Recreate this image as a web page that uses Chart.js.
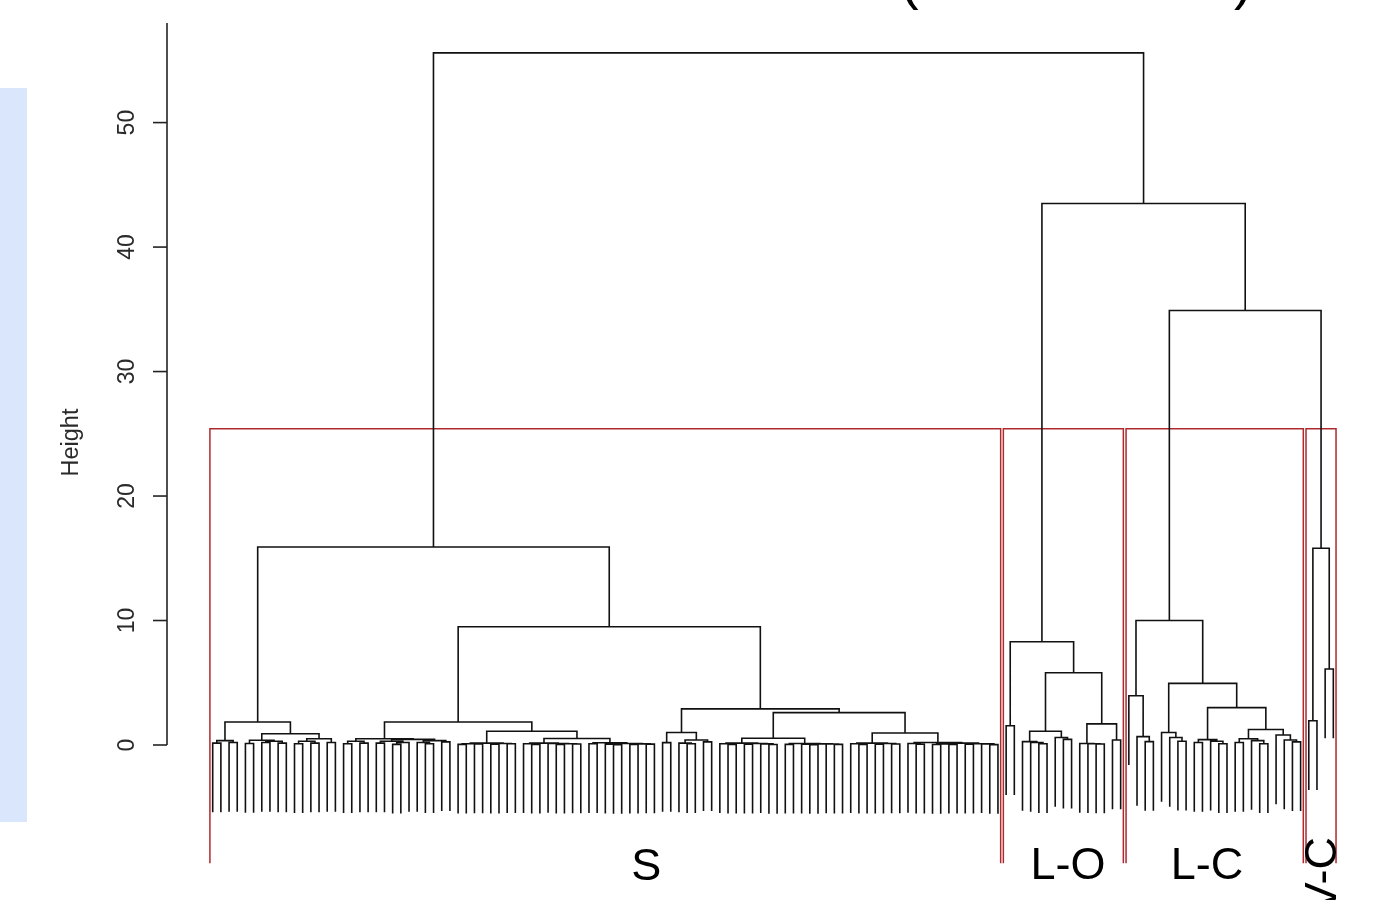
<!DOCTYPE html>
<html>
<head>
<meta charset="utf-8">
<style>html,body{margin:0;padding:0;background:#fff;overflow:hidden}canvas{display:block}</style>
<script src="https://cdn.jsdelivr.net/npm/chart.js@4.4.1/dist/chart.umd.min.js"></script>
</head>
<body>
<canvas id="c" width="1382" height="900"></canvas>
<script>
// ---- DATA: dendrogram merges as [height, left, right]; L = a leaf ----
const L = 0;
// cluster S
const sA1   = [0.35, [0.15, L, L], [0.2, L, L]];
const sA2a  = [0.38, [0.12, L, L], [0.3, [0.2, L, L], [0.15, L, L]]];
const sA2b  = [0.5, [0.3, [0.1, L, L], [0.15, L, L]], [0.2, L, L]];
const sA    = [1.85, sA1, [0.9, sA2a, sA2b]];
const sCL1  = [0.3, [0.1, L, L], [0.15, L, L]];
const sCL2  = [0.45, [0.3, [0.15, L, L], [0.2, [0.05, L, L], L]], [0.35, [0.2, L, [0.1, L, L]], [0.25, L, L]]];
const sCRL  = [0.15, [0.1, [0.05, L, L], [0.08, L, L]], [0.12, [0.06, L, L], [0.1, L, L]]];
const sCRRa = [0.15, [0.1, L, [0.05, L, L]], [0.12, L, [0.1, [0.05, L, L], [0.08, L, L]]]];
const sCRRb = [0.18, [0.1, L, L], [0.12, [0.06, L, [0.03, L, L]], [0.09, [0.05, L, L], [0.07, L, L]]]];
const sC    = [1.85, [0.5, sCL1, sCL2], [1.1, sCRL, [0.52, sCRRa, sCRRb]]];
const sDL   = [1.0, [0.19, L, L], [0.4, [0.15, L, [0.1, L, L]], [0.25, L, L]]];
const sDRLa = [0.15, [0.1, L, [0.05, L, L]], [0.12, [0.06, L, L], [0.09, L, [0.04, L, L]]]];
const sDRLb = [0.12, [0.05, L, L], [0.09, [0.06, L, [0.03, L, L]], [0.08, L, [0.05, L, L]]]];
const sDRRa = [0.15, [0.1, L, [0.05, L, L]], [0.12, [0.06, L, L], [0.08, L, L]]];
const sDRRb = [0.2, [0.12, L, [0.06, L, L]], [0.15, [0.08, [0.04, L, L], [0.05, L, L]], [0.1, [0.06, L, L], [0.09, L, [0.03, L, L]]]]];
const sD    = [2.9, sDL, [2.6, [0.54, sDRLa, sDRLb], [0.96, sDRRa, sDRRb]]];
const clusterS = [15.9, sA, [9.5, sC, sD]];
// cluster L-O
const clusterLO = [8.3, [1.55, L, L], [5.8, [1.1, [0.27, L, [0.2, L, [0.1, L, L]]], [0.6, L, [0.45, L, L]]], [1.7, [0.12, L, [0.1, L, [0.08, L, L]]], [0.4, L, L]]]];
// cluster L-C
const clusterLC = [10.0, [3.96, L, [0.67, L, [0.27, L, L]]], [4.95, [1.0, L, [0.6, L, [0.3, L, L]]], [3.0, [0.43, [0.2, L, L], [0.3, L, [0.1, L, L]]], [1.25, [0.5, [0.2, L, L], [0.35, L, [0.1, L, L]]], [0.8, L, [0.4, L, [0.25, L, L]]]]]]];
// cluster V-C
const clusterVC = [15.8, [1.95, L, L], [6.1, L, L]];
// top merges
const topHeights = [55.6, 43.5, 34.9];
const clusters = [clusterS, clusterLO, clusterLC, clusterVC];
const clusterNames = ['S', 'L-O', 'L-C', 'V-C'];
const yTicks = [0, 10, 20, 30, 40, 50];
const yTickLabels = ['0', '10', '20', '30', '40', '50'];
const yAxisTitle = 'Height';

const tree = [topHeights[0], clusters[0], [topHeights[1], clusters[1], [topHeights[2], clusters[2], clusters[3]]]];

// ---- layout helpers ----
function allHeights(n, out) { if (n === L) return out; out.push(n[0]); allHeights(n[1], out); allHeights(n[2], out); return out; }
function countLeaves(n) { return n === L ? 1 : countLeaves(n[1]) + countLeaves(n[2]); }
const hs = allHeights(tree, []);
const hang = 0.1 * (Math.max(...hs) - Math.min(...hs));
const segs = [];
function build(node, st) {
  if (node === L) { return { x: st.next++, leaf: true }; }
  const a = build(node[1], st), b = build(node[2], st);
  const h = node[0];
  const ya = a.leaf ? h - hang : a.h, yb = b.leaf ? h - hang : b.h;
  segs.push({ x: a.x, y: ya }, { x: a.x, y: h }, { x: b.x, y: h }, { x: b.x, y: yb }, { x: b.x, y: null });
  return { x: (a.x + b.x) / 2, h: h, leaf: false };
}
build(tree, { next: 0 });

// rect.hclust boxes (k = 4)
const sortedH = hs.slice().sort((p, q) => q - p);
const k = clusters.length;
const rectTop = (sortedH[k - 2] + sortedH[k - 1]) / 2;
const rectBottom = -9.5;
const rectPts = [];
let start = 0;
clusters.forEach(c => {
  const n = countLeaves(c);
  const x1 = start - 0.34, x2 = start + n - 1 + 0.33;
  rectPts.push({ x: x1, y: rectBottom }, { x: x1, y: rectTop }, { x: x2, y: rectTop }, { x: x2, y: rectBottom }, { x: x2, y: null });
  start += n;
});

// ---- presentation ----
const FONT = '"Liberation Sans", Arial, Helvetica, sans-serif';
const labelLayout = [
  { x: 53.0, y: -10.85, rot: false },
  { x: 104.56, y: -10.8, rot: false },
  { x: 121.56, y: -10.8, rot: false },
  { x: 137.3, y: -7.4, rot: true }
];

const decor = {
  id: 'decor',
  beforeDraw(chart) {
    const ctx = chart.ctx;
    ctx.save();
    ctx.fillStyle = '#ffffff';
    ctx.fillRect(0, 0, chart.width, chart.height);
    ctx.fillStyle = '#dae6fb';
    ctx.fillRect(0, 88, 27, 734);
    ctx.restore();
  },
  afterDraw(chart) {
    const ctx = chart.ctx, x = chart.scales.x, y = chart.scales.y;
    const ax = chart.chartArea.left;
    ctx.save();
    // y axis
    ctx.strokeStyle = '#222';
    ctx.lineWidth = 1.6;
    ctx.beginPath();
    ctx.moveTo(ax, y.getPixelForValue(y.max));
    ctx.lineTo(ax, y.getPixelForValue(0));
    ctx.stroke();
    ctx.fillStyle = '#2a2a2a';
    ctx.font = '23px ' + FONT;
    yTicks.forEach((v, i) => {
      const py = y.getPixelForValue(v);
      ctx.beginPath(); ctx.moveTo(ax - 14, py); ctx.lineTo(ax, py); ctx.stroke();
      ctx.save();
      ctx.translate(134, py);
      ctx.rotate(-Math.PI / 2);
      ctx.textAlign = 'center'; ctx.textBaseline = 'alphabetic';
      ctx.fillText(yTickLabels[i], 0, 0);
      ctx.restore();
    });
    // axis title
    ctx.save();
    ctx.font = '23.5px ' + FONT;
    ctx.translate(78, 442.5);
    ctx.rotate(-Math.PI / 2);
    ctx.textAlign = 'center'; ctx.textBaseline = 'alphabetic';
    ctx.fillText(yAxisTitle, 0, 0);
    ctx.restore();
    // cluster labels
    ctx.fillStyle = '#000';
    ctx.font = '45px ' + FONT;
    clusterNames.forEach((name, i) => {
      const p = labelLayout[i];
      const px = x.getPixelForValue(p.x), py = y.getPixelForValue(p.y);
      ctx.save();
      if (p.rot) {
        ctx.translate(px, py);
        ctx.rotate(-Math.PI / 2);
        ctx.textAlign = 'right'; ctx.textBaseline = 'alphabetic';
        ctx.fillText(name, 0, 0);
      } else {
        ctx.textAlign = 'center'; ctx.textBaseline = 'alphabetic';
        ctx.fillText(name, px, py);
      }
      ctx.restore();
    });
    // cropped title (only parentheses tails visible)
    ctx.font = '56px ' + FONT;
    ctx.textAlign = 'left'; ctx.textBaseline = 'alphabetic';
    ctx.fillText('(', 900, -2);
    ctx.fillText(')', 1234, -2);
    ctx.restore();
  }
};

new Chart(document.getElementById('c'), {
  type: 'line',
  data: {
    datasets: [
      { label: 'dendrogram', data: segs, borderColor: '#111111', borderWidth: 1.6, pointRadius: 0, tension: 0, spanGaps: false, clip: false },
      { label: 'clusters', data: rectPts, borderColor: '#ad2a2f', borderWidth: 1.5, pointRadius: 0, tension: 0, spanGaps: false, clip: false }
    ]
  },
  options: {
    responsive: false,
    devicePixelRatio: 1,
    animation: false,
    events: [],
    layout: { padding: { left: 167, right: 0, top: 23, bottom: 155 } },
    scales: {
      x: { type: 'linear', min: -5.587, max: 142.95, display: false },
      y: { type: 'linear', min: 0, max: 58, display: false }
    },
    plugins: { legend: { display: false }, tooltip: { enabled: false } }
  },
  plugins: [decor]
});
</script>
</body>
</html>
